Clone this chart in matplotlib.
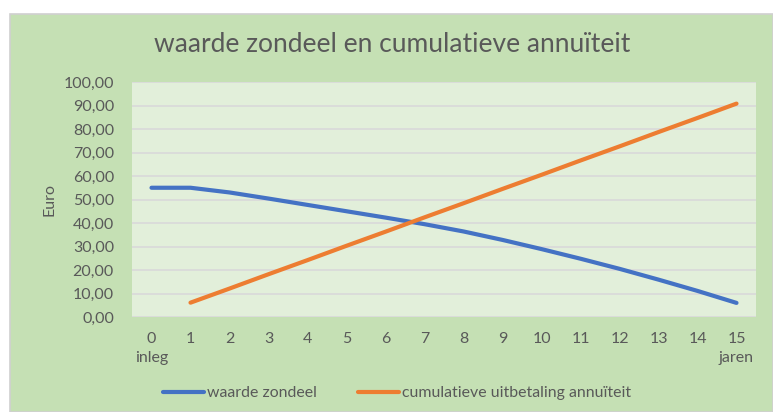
import matplotlib.pyplot as plt
from matplotlib.patches import Rectangle

# data
jaren = list(range(16))
waarde_zondeel = [55.0, 55.0, 53.0, 50.4, 47.7, 45.0, 42.3, 39.5, 36.4,
                  32.8, 28.9, 24.8, 20.5, 15.9, 11.1, 6.0]
jaren_uitbetaling = list(range(1, 16))
cumulatief = [6.1, 12.1, 18.2, 24.2, 30.3, 36.3, 42.4, 48.4, 54.5,
              60.5, 66.6, 72.6, 78.7, 84.7, 90.8]
tick_labels = ['0\ninleg'] + [str(j) for j in range(1, 15)] + ['15\njaren']
y_ticks = list(range(0, 101, 10))

plt.rcParams['font.family'] = ['Lato', 'DejaVu Sans']
txt = '#595959'

fig = plt.figure(figsize=(7.73, 4.12), dpi=100)
fig.patch.set_facecolor('white')
W, H = 773, 412
fig.patches.append(Rectangle((10 / W, 0), 1 - 10 / W, 1 - 14 / H,
                             transform=fig.transFigure, facecolor='#C5E0B4',
                             edgecolor='#D0D0D0', linewidth=1.2, zorder=-5))

ax = fig.add_axes([132 / W, 1 - 317 / H, 624 / W, 235 / H])
ax.set_facecolor('#E2EFDA')
for s in ax.spines.values():
    s.set_visible(False)

ax.plot(jaren, waarde_zondeel, color='#4472C4', linewidth=3,
        solid_capstyle='round', label='waarde zondeel', zorder=3)
ax.plot(jaren_uitbetaling, cumulatief, color='#ED7D31', linewidth=3,
        solid_capstyle='round', label='cumulatieve uitbetaling annuïteit', zorder=3)

ax.set_xlim(-0.5, 15.5)
ax.set_ylim(0, 100)
ax.set_yticks(y_ticks)
ax.set_yticklabels([f'{v:.2f}'.replace('.', ',') for v in y_ticks])
ax.set_xticks(jaren)
ax.set_xticklabels(tick_labels, linespacing=1.4, va='top')
ax.tick_params(length=0, labelsize=11.5, labelcolor=txt)
ax.tick_params(axis='y', pad=13)
ax.tick_params(axis='x', pad=11)
ax.grid(axis='y', color='#D9D9D9', linewidth=1.2)
ax.set_axisbelow(True)

ax.set_ylabel('Euro', fontsize=11.5, color=txt, labelpad=5)
fig.text(392 / W, 1 - 45 / H, 'waarde zondeel en cumulatieve annuïteit',
         ha='center', va='center', fontsize=19, color=txt)

fig.legend(loc='center', bbox_to_anchor=(397 / W, 1 - 393 / H), ncol=2,
           frameon=False, fontsize=11.4, labelcolor=txt, handlelength=2.6,
           handletextpad=0.2, columnspacing=2.6)

fig.savefig('out.png', dpi=100, facecolor=fig.get_facecolor())
